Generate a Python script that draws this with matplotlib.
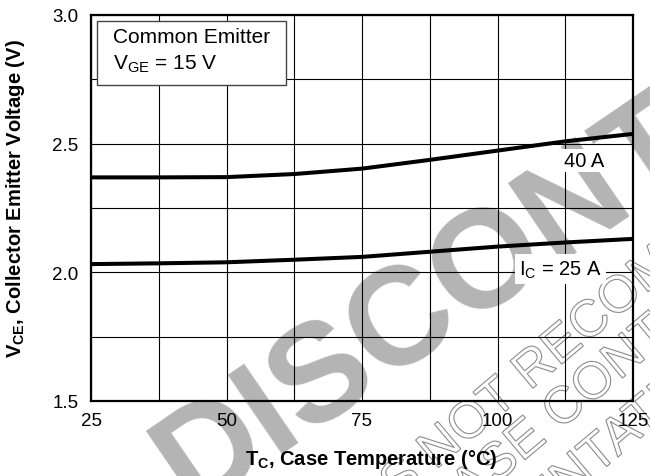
import matplotlib
matplotlib.use('Agg')
import matplotlib.pyplot as plt
from matplotlib.ticker import MultipleLocator, FixedLocator, FormatStrFormatter
from matplotlib.patches import Rectangle, PathPatch
from matplotlib.textpath import TextPath
from matplotlib.font_manager import FontProperties
from matplotlib.transforms import Affine2D

plt.rcParams['font.family'] = 'Liberation Sans'
plt.rcParams['mathtext.fontset'] = 'custom'
plt.rcParams['mathtext.rm'] = 'Liberation Sans'
plt.rcParams['mathtext.bf'] = 'Liberation Sans:bold'
plt.rcParams['mathtext.it'] = 'Liberation Sans:italic'

W, H = 650, 477

# data
temps_c  = [25, 37.5, 50, 62.5, 75, 87.5, 100, 112.5, 125]
vce_40a  = [2.369, 2.369, 2.370, 2.382, 2.403, 2.437, 2.473, 2.509, 2.538]
vce_25a  = [2.032, 2.035, 2.039, 2.049, 2.060, 2.080, 2.100, 2.116, 2.130]

x_ticks = [25, 50, 75, 100, 125]
y_ticks = [1.5, 2.0, 2.5, 3.0]

WM_GRAY = '#b4b4b4'


def outline_text(fig, text, sub, center_xy, em_px, angle, color='#8c8c8c'):
    # hollow watermark text, centred on the 2nd char of `sub` (image pixel coords)
    prop = FontProperties(family='Liberation Sans')
    i = text.index(sub) + 1
    full = TextPath((0, 0), text, size=em_px, prop=prop)
    x_a = TextPath((0, 0), text[:i], size=em_px, prop=prop).get_extents().x1
    x_b = TextPath((0, 0), text[:i + 1], size=em_px, prop=prop).get_extents().x1
    cx = (x_a + x_b) / 2
    cy = 0.716 * em_px / 2
    tr = (Affine2D().translate(-cx, -cy).rotate_deg(angle)
          .translate(center_xy[0], H - center_xy[1]).scale(1 / W, 1 / H))
    fig.add_artist(PathPatch(tr.transform_path(full), facecolor='none',
                             edgecolor=color, lw=0.8, zorder=-1))


fig = plt.figure(figsize=(W / 100, H / 100), dpi=100)
fig.patch.set_facecolor('white')

# watermark behind the chart
fig.text(191.6 / W, (H - 509.8) / H, 'DISCONTINUED', rotation=34.4,
         rotation_mode='anchor', ha='left', va='baseline', fontsize=100,
         fontweight='bold', color=WM_GRAY, zorder=-2)
outline_text(fig, 'THIS DEVICE IS NOT RECOMMENDED FOR NEW DESIGN', 'NOT', (465, 422), 52, 40)
outline_text(fig, 'PLEASE CONTACT YOUR SALES OFFICE', 'CONTACT', (590, 382), 52, 40)
outline_text(fig, 'REPRESENTATIVE FOR INFORMATION', 'TATIVE', (620, 432), 52, 40)

ax = fig.add_axes([91 / W, 1 - 402 / H, 542 / W, 386 / H])
ax.set_facecolor('none')

ax.plot(temps_c, vce_40a, color='black', lw=2.9, solid_capstyle='butt', zorder=3)
ax.plot(temps_c, vce_25a, color='black', lw=2.9, solid_capstyle='butt', zorder=3)

ax.set_xlim(25, 125)
ax.set_ylim(1.5, 3.0)
ax.xaxis.set_major_locator(FixedLocator(x_ticks))
ax.xaxis.set_minor_locator(MultipleLocator(12.5))
ax.yaxis.set_major_locator(FixedLocator(y_ticks))
ax.yaxis.set_minor_locator(MultipleLocator(0.25))
ax.yaxis.set_major_formatter(FormatStrFormatter('%.1f'))
ax.grid(True, which='both', color='black', lw=0.8)
ax.set_axisbelow(True)
ax.tick_params(which='both', length=0, labelsize=13.5)
ax.tick_params(axis='x', pad=8)
ax.tick_params(axis='y', pad=9)
for sp in ax.spines.values():
    sp.set_linewidth(1.6)

ax.set_xlabel(r'T$_\mathbf{C}$, Case Temperature (°C)', fontsize=14.5,
              fontweight='bold', va='center')
ax.xaxis.set_label_coords(0.517, -0.15)
ax.set_ylabel(r'V$_\mathbf{CE}$, Collector Emitter Voltage (V)', fontsize=14.5,
              fontweight='bold', va='center')
ax.yaxis.set_label_coords(-0.14, 0.528)

# condition box
ax.add_patch(Rectangle((0.011, 0.819), 0.349, 0.165, transform=ax.transAxes,
                       facecolor='white', edgecolor='#444444', lw=1.0, zorder=4))
ax.text(0.0406, 0.930, 'Common Emitter', transform=ax.transAxes, fontsize=15,
        va='baseline', zorder=5)
ax.text(0.0406, 0.860, r'V$_\mathrm{GE}$ = 15 V', transform=ax.transAxes,
        fontsize=15, va='baseline', zorder=5)

# curve labels
ax.text(115.96, 2.435, '40 A', fontsize=14.5, ha='center', va='center', zorder=4,
        bbox=dict(facecolor='white', edgecolor='none', pad=1.5))
ax.text(111.6, 2.012, r'I$_\mathrm{C}$ = 25 A', fontsize=14.5, ha='center',
        va='center', zorder=4,
        bbox=dict(facecolor='white', edgecolor='none', pad=3))

fig.savefig('out.png', dpi=100)
